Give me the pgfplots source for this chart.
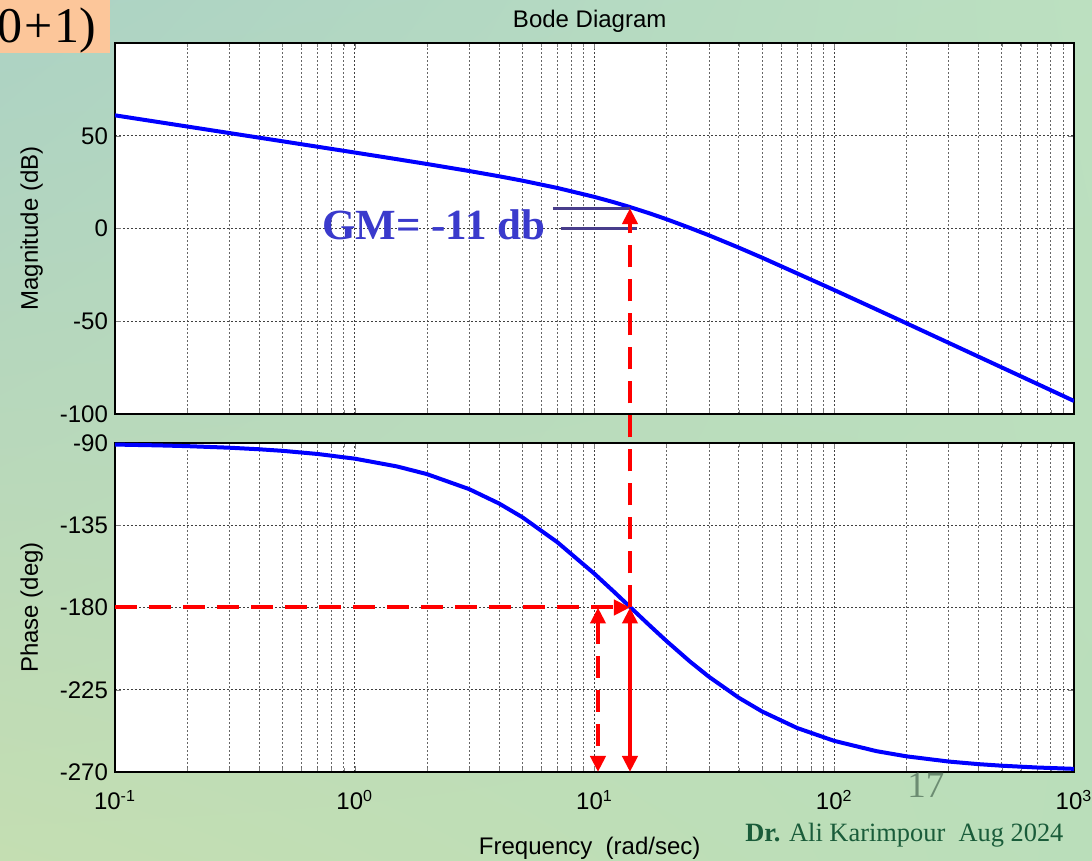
\documentclass[border=0pt]{standalone}
\usepackage{fontspec}
\setmainfont{Liberation Sans}
\newfontfamily\serif{Liberation Serif}
\usepackage{pgfplots}
\usepackage{pgfplotstable}
\pgfplotsset{compat=1.18}
\usetikzlibrary{arrows.meta,shadings}
\definecolor{bgUL}{RGB}{172,210,196}
\definecolor{bgUR}{RGB}{188,224,192}
\definecolor{bgLL}{RGB}{196,222,178}
\definecolor{bgLR}{RGB}{186,222,186}
\definecolor{boxor}{RGB}{252,198,154}
\definecolor{gmtext}{RGB}{58,58,204}
\definecolor{gmline}{RGB}{72,61,139}
\definecolor{pagenum}{RGB}{108,140,114}
\definecolor{author}{RGB}{26,92,58}

\pgfplotstableread{
w     mag     phase
0.1   61.00   -90.86
0.15  57.48   -91.29
0.2   54.98   -91.72
0.3   51.45   -92.58
0.4   48.95   -93.44
0.5   47.01   -94.29
0.7   44.07   -96.01
1     40.95   -98.57
1.5   37.36   -102.82
2     34.77   -107.02
3     30.99   -115.23
4     28.15   -123.11
5     25.79   -130.60
7     21.85   -144.28
10    17.02   -161.57
12    14.21   -171.15
14    11.63   -179.45
17    8.13    -189.89
20    4.98    -198.43
25    0.31    -209.54
30    -3.66   -217.88
40    -10.33  -229.39
50    -15.73  -236.89
70    -24.20  -245.92
100   -33.19  -252.98
150   -43.63  -258.60
200   -51.09  -261.43
300   -61.64  -264.28
400   -69.12  -265.71
500   -74.92  -266.56
700   -83.68  -267.54
1000  -92.98  -268.28
}\bodedata

\pgfplotsset{
  every axis/.append style={
    axis line style={black, line width=0.9pt},
    tick align=inside,
    major tick length=3pt,
    minor tick length=2pt,
    major grid style={black!75, line width=0.35pt, dash pattern=on 1.2pt off 0.8pt},
    minor grid style={black!60, line width=0.35pt, dash pattern=on 1.2pt off 0.8pt},
    tick label style={font=\fontsize{12}{14}\selectfont},
    label style={font=\fontsize{12}{14}\selectfont},
    title style={font=\fontsize{12}{14}\selectfont},
  },
  every axis y label/.style={at={(axis description cs:-0.087,0.5)}, rotate=90, anchor=center},
  every axis x label/.style={at={(axis description cs:0.495,-0.231)}, anchor=center},
  every axis title/.style={at={(axis description cs:0.495,1.058)}, anchor=center},
}

\begin{document}
\begin{tikzpicture}
\useasboundingbox (0,0) rectangle (546pt,430.5pt);
\shade[upper left=bgUL, upper right=bgUR, lower left=bgLL, lower right=bgLR] (0,0) rectangle (546pt,430.5pt);

% Magnitude axis
\begin{axis}[
  name=mag,
  scale only axis,
  width=479.5pt, height=185.5pt,
  at={(57.5pt,223.5pt)}, anchor=south west,
  xmode=log, xmin=0.1, xmax=1000,
  xtick={0.1,1,10,100,1000},
  xticklabels={},
  ymin=-100, ymax=100,
  ytick={-100,-50,0,50,100},
  yticklabels={-100,-50,0,50,100},
  xmajorgrids=true, xminorgrids=true, ymajorgrids=true,
  axis background/.style={fill=white},
  ylabel={Magnitude (dB)},
  title={Bode Diagram},
]
\addplot[blue, line width=2pt] table[x=w, y=mag] {\bodedata};
\coordinate (A) at (axis cs:14.06,11);
\coordinate (G1a) at (axis cs:6.71,11);
\coordinate (G1b) at (axis cs:14.06,11);
\coordinate (G2a) at (axis cs:7.27,0);
\coordinate (G2b) at (axis cs:15.0,0);
\coordinate (GT) at (axis cs:0.73,-6.2);
\end{axis}

% Phase axis
\begin{axis}[
  name=ph,
  scale only axis,
  width=479.5pt, height=164.5pt,
  at={(57.5pt,44.5pt)}, anchor=south west,
  xmode=log, xmin=0.1, xmax=1000,
  xtick={0.1,1,10,100,1000},
  xticklabels={10\textsuperscript{-1},10\textsuperscript{0},10\textsuperscript{1},10\textsuperscript{2},10\textsuperscript{3}},
  xticklabel style={yshift=-5.5pt},
  ymin=-270, ymax=-90,
  ytick={-270,-225,-180,-135,-90},
  yticklabels={-270,-225,-180,-135,-90},
  xmajorgrids=true, xminorgrids=true, ymajorgrids=true,
  axis background/.style={fill=white},
  ylabel={Phase (deg)},
  xlabel={Frequency\ \ (rad/sec)},
]
\addplot[blue, line width=2pt] table[x=w, y=phase] {\bodedata};
\coordinate (B) at (axis cs:14.06,-180);
\coordinate (C) at (axis cs:0.1,-180);
\coordinate (D) at (axis cs:10.34,-180);
\coordinate (E) at (axis cs:10.34,-270);
\coordinate (F) at (axis cs:14.06,-270);
\end{axis}

% annotations
\draw[gmline, line width=1.5pt] (G1a) -- (G1b);
\draw[gmline, line width=1.5pt] (G2a) -- (G2b);
\node[anchor=base west, inner sep=0pt, text=gmtext, font=\serif\bfseries\fontsize{21.5}{24}\selectfont] at (GT) {GM= -11 db};

\draw[red, line width=2pt, dash pattern=on 11pt off 6pt, -{Triangle[length=8pt,width=7.5pt]}] (B) -- (A);
\draw[red, line width=2pt, dash pattern=on 11pt off 6pt, -{Triangle[length=8pt,width=7.5pt]}] (C) -- (B);
\draw[red, line width=2pt, dash pattern=on 11pt off 6pt, {Triangle[length=8pt,width=7.5pt]}-{Triangle[length=8pt,width=7.5pt]}] (D) -- (E);
\draw[red, line width=2pt, {Triangle[length=8pt,width=7.5pt]}-{Triangle[length=8pt,width=7.5pt]}] (B) -- (F);

% slide decorations
\fill[boxor] (0,430.5pt) rectangle (55pt,404pt);
\node[anchor=base east, inner sep=0pt, font=\serif\fontsize{25}{27}\selectfont] at (48.5pt,409pt) {0\kern1pt+\kern1pt1)};
\node[anchor=base west, inner sep=0pt, text=pagenum, font=\serif\fontsize{18.5}{20}\selectfont] at (453.5pt,31.5pt) {17};
\node[anchor=base west, inner sep=0pt, text=author, font=\serif\fontsize{13.2}{15}\selectfont] at (372.5pt,9.5pt) {\textbf{Dr.} Ali Karimpour\ \ Aug 2024};
\end{tikzpicture}
\end{document}
